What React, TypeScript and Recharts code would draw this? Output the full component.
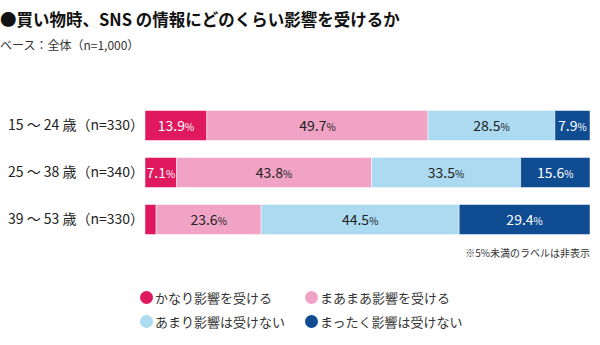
import { BarChart, Bar, XAxis, YAxis, LabelList } from 'recharts';

// 年代別の回答割合（%）
const ageGroups = ['15 〜 24 歳（n=330）', '25 〜 38 歳（n=340）', '39 〜 53 歳（n=330）'];
const strongly = [13.9, 7.1, 2.5];
const somewhat = [49.7, 43.8, 23.6];
const notMuch = [28.5, 33.5, 44.5];
const notAtAll = [7.9, 15.6, 29.4];

const seriesNames = ['かなり影響を受ける', 'まあまあ影響を受ける', 'あまり影響は受けない', 'まったく影響は受けない'];
const seriesColors = ['#E0195F', '#F0A3C5', '#ABDAF1', '#0F4C92'];
const labelColors = ['#ffffff', '#222222', '#222222', '#ffffff'];

const data = ageGroups.map((g, i) => ({
  group: g,
  s0: strongly[i],
  s1: somewhat[i],
  s2: notMuch[i],
  s3: notAtAll[i],
}));

const FONT = '"Noto Sans CJK JP", "Noto Sans", sans-serif';

const makeLabel = (color: string) => (props: any) => {
  const { x, y, width, height, value } = props;
  if (value < 5) return null; // 5%未満は非表示
  return (
    <text
      x={x + width / 2}
      y={y + height / 2 + 5}
      textAnchor="middle"
      fill={color}
      fontFamily={FONT}
      fontSize={14}
    >
      {value.toFixed(1)}
      <tspan fontSize={10}>%</tspan>
    </text>
  );
};

const GroupTick = ({ y, payload }: any) => (
  <text x={8} y={y + 5} fill="#222" fontFamily={FONT} fontSize={14}>
    {payload.value}
  </text>
);

export default function App() {
  return (
    <div style={{ position: 'absolute', left: 0, top: 0, width: 600, height: 345, background: '#fff', fontFamily: FONT }}>
      <div style={{ position: 'absolute', left: 0, top: 7, fontSize: 16.5, fontWeight: 700, color: '#111', whiteSpace: 'nowrap' }}>
        ●買い物時、SNS の情報にどのくらい影響を受けるか
      </div>
      <div style={{ position: 'absolute', left: 0, top: 36, fontSize: 12, color: '#333', whiteSpace: 'nowrap' }}>
        ベース：全体（n=1,000）
      </div>
      <div style={{ position: 'absolute', right: 10, top: 245, fontSize: 10, color: '#333', whiteSpace: 'nowrap' }}>
        ※5%未満のラベルは非表示
      </div>
      <BarChart
        width={600}
        height={345}
        data={data}
        layout="vertical"
        margin={{ top: 101.5, right: 10, bottom: 102.5, left: 0 }}
        barSize={30}
      >
        <XAxis type="number" domain={[0, 100]} hide />
        <YAxis
          type="category"
          dataKey="group"
          width={145}
          axisLine={false}
          tickLine={false}
          tick={<GroupTick />}
        />
        {['s0', 's1', 's2', 's3'].map((key, i) => (
          <Bar
            key={key}
            dataKey={key}
            name={seriesNames[i]}
            stackId="a"
            fill={seriesColors[i]}
            stroke="#ffffff"
            strokeWidth={0.5}
            isAnimationActive={false}
          >
            <LabelList dataKey={key} content={makeLabel(labelColors[i])} />
          </Bar>
        ))}
      </BarChart>
      <div style={{ position: 'absolute', left: 0, top: 288, width: 600, height: 60, fontSize: 13, color: '#333' }}>
        {seriesNames.map((name, i) => (
          <div
            key={name}
            style={{
              position: 'absolute',
              left: i % 2 === 0 ? 140 : 305,
              top: i < 2 ? 0 : 24,
              display: 'flex',
              alignItems: 'center',
              whiteSpace: 'nowrap',
            }}
          >
            <span
              style={{
                display: 'inline-block',
                width: 13,
                height: 13,
                borderRadius: '50%',
                background: seriesColors[i],
                marginRight: 2,
              }}
            />
            {name}
          </div>
        ))}
      </div>
    </div>
  );
}
